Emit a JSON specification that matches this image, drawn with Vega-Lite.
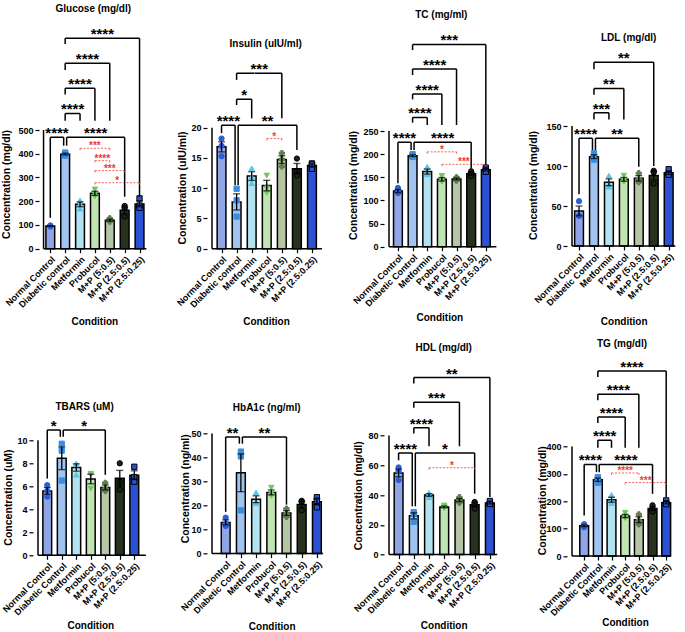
{
"$schema": "https://vega.github.io/schema/vega-lite/v6.json",
"background": "white",
"padding": {"left": 0, "top": 4, "right": 0, "bottom": 0},
"config": {
 "font": "Liberation Sans",
 "view": {"stroke": null},
 "axis": {"grid": false, "domain": false, "tickColor": "black", "tickWidth": 1.2, "tickSize": 4, "labelColor": "black", "labelFontSize": 9, "labelFontWeight": "bold", "titleFontSize": 10.5, "titleFontWeight": "bold", "titleColor": "black", "labelFlush": false, "labelOverlap": false, "labelBound": false, "labelPadding": 2, "tickCount": 20},
 "axisX": {"labelAngle": -45, "titleFontSize": 10, "labelOverlap": false},
 "title": {"fontSize": 10, "fontWeight": "bold", "color": "black"}
},
"datasets": {
"pts": [
{"p":"Glucose","g":"Normal Control","i":0,"v":98},{"p":"Glucose","g":"Normal Control","i":0,"v":95},{"p":"Glucose","g":"Normal Control","i":0,"v":93},
{"p":"Glucose","g":"Diabetic Control","i":1,"v":405},{"p":"Glucose","g":"Diabetic Control","i":1,"v":398},{"p":"Glucose","g":"Diabetic Control","i":1,"v":392},
{"p":"Glucose","g":"Metformin","i":2,"v":203},{"p":"Glucose","g":"Metformin","i":2,"v":190},{"p":"Glucose","g":"Metformin","i":2,"v":168},
{"p":"Glucose","g":"Probucol","i":3,"v":250},{"p":"Glucose","g":"Probucol","i":3,"v":230},{"p":"Glucose","g":"Probucol","i":3,"v":220},
{"p":"Glucose","g":"M+P (5:0.5)","i":4,"v":128},{"p":"Glucose","g":"M+P (5:0.5)","i":4,"v":118},{"p":"Glucose","g":"M+P (5:0.5)","i":4,"v":114},
{"p":"Glucose","g":"M+P (2.5:0.5)","i":5,"v":180},{"p":"Glucose","g":"M+P (2.5:0.5)","i":5,"v":170},{"p":"Glucose","g":"M+P (2.5:0.5)","i":5,"v":135},
{"p":"Glucose","g":"M+P (2.5:0.25)","i":6,"v":212},{"p":"Glucose","g":"M+P (2.5:0.25)","i":6,"v":182},{"p":"Glucose","g":"M+P (2.5:0.25)","i":6,"v":172},
{"p":"Insulin","g":"Normal Control","i":0,"v":18.2},{"p":"Insulin","g":"Normal Control","i":0,"v":17.0},{"p":"Insulin","g":"Normal Control","i":0,"v":15.3},
{"p":"Insulin","g":"Diabetic Control","i":1,"v":9.9},{"p":"Insulin","g":"Diabetic Control","i":1,"v":8.0},{"p":"Insulin","g":"Diabetic Control","i":1,"v":5.3},
{"p":"Insulin","g":"Metformin","i":2,"v":13.3},{"p":"Insulin","g":"Metformin","i":2,"v":11.9},{"p":"Insulin","g":"Metformin","i":2,"v":10.8},
{"p":"Insulin","g":"Probucol","i":3,"v":12.1},{"p":"Insulin","g":"Probucol","i":3,"v":10.0},{"p":"Insulin","g":"Probucol","i":3,"v":9.2},
{"p":"Insulin","g":"M+P (5:0.5)","i":4,"v":15.8},{"p":"Insulin","g":"M+P (5:0.5)","i":4,"v":14.8},{"p":"Insulin","g":"M+P (5:0.5)","i":4,"v":13.6},
{"p":"Insulin","g":"M+P (2.5:0.5)","i":5,"v":14.9},{"p":"Insulin","g":"M+P (2.5:0.5)","i":5,"v":12.7},{"p":"Insulin","g":"M+P (2.5:0.5)","i":5,"v":12.1},
{"p":"Insulin","g":"M+P (2.5:0.25)","i":6,"v":14.1},{"p":"Insulin","g":"M+P (2.5:0.25)","i":6,"v":13.9},{"p":"Insulin","g":"M+P (2.5:0.25)","i":6,"v":13.2},
{"p":"TC","g":"Normal Control","i":0,"v":127},{"p":"TC","g":"Normal Control","i":0,"v":118},{"p":"TC","g":"Normal Control","i":0,"v":116},
{"p":"TC","g":"Diabetic Control","i":1,"v":200},{"p":"TC","g":"Diabetic Control","i":1,"v":196},{"p":"TC","g":"Diabetic Control","i":1,"v":194},
{"p":"TC","g":"Metformin","i":2,"v":173},{"p":"TC","g":"Metformin","i":2,"v":158},{"p":"TC","g":"Metformin","i":2,"v":156},
{"p":"TC","g":"Probucol","i":3,"v":153},{"p":"TC","g":"Probucol","i":3,"v":144},{"p":"TC","g":"Probucol","i":3,"v":140},
{"p":"TC","g":"M+P (5:0.5)","i":4,"v":150},{"p":"TC","g":"M+P (5:0.5)","i":4,"v":146},{"p":"TC","g":"M+P (5:0.5)","i":4,"v":143},
{"p":"TC","g":"M+P (2.5:0.5)","i":5,"v":163},{"p":"TC","g":"M+P (2.5:0.5)","i":5,"v":158},{"p":"TC","g":"M+P (2.5:0.5)","i":5,"v":152},
{"p":"TC","g":"M+P (2.5:0.25)","i":6,"v":171},{"p":"TC","g":"M+P (2.5:0.25)","i":6,"v":166},{"p":"TC","g":"M+P (2.5:0.25)","i":6,"v":162},
{"p":"LDL","g":"Normal Control","i":0,"v":56},{"p":"LDL","g":"Normal Control","i":0,"v":38},{"p":"LDL","g":"Normal Control","i":0,"v":37.5},
{"p":"LDL","g":"Diabetic Control","i":1,"v":116},{"p":"LDL","g":"Diabetic Control","i":1,"v":111},{"p":"LDL","g":"Diabetic Control","i":1,"v":108},
{"p":"LDL","g":"Metformin","i":2,"v":88},{"p":"LDL","g":"Metformin","i":2,"v":77},{"p":"LDL","g":"Metformin","i":2,"v":74},
{"p":"LDL","g":"Probucol","i":3,"v":88},{"p":"LDL","g":"Probucol","i":3,"v":82},{"p":"LDL","g":"Probucol","i":3,"v":80},
{"p":"LDL","g":"M+P (5:0.5)","i":4,"v":91},{"p":"LDL","g":"M+P (5:0.5)","i":4,"v":83},{"p":"LDL","g":"M+P (5:0.5)","i":4,"v":79.8},
{"p":"LDL","g":"M+P (2.5:0.5)","i":5,"v":94},{"p":"LDL","g":"M+P (2.5:0.5)","i":5,"v":92},{"p":"LDL","g":"M+P (2.5:0.5)","i":5,"v":78},
{"p":"LDL","g":"M+P (2.5:0.25)","i":6,"v":96},{"p":"LDL","g":"M+P (2.5:0.25)","i":6,"v":90},{"p":"LDL","g":"M+P (2.5:0.25)","i":6,"v":89},
{"p":"TBARS","g":"Normal Control","i":0,"v":6.1},{"p":"TBARS","g":"Normal Control","i":0,"v":5.6},{"p":"TBARS","g":"Normal Control","i":0,"v":5.1},
{"p":"TBARS","g":"Diabetic Control","i":1,"v":9.7},{"p":"TBARS","g":"Diabetic Control","i":1,"v":9.1},{"p":"TBARS","g":"Diabetic Control","i":1,"v":6.5},
{"p":"TBARS","g":"Metformin","i":2,"v":8.0},{"p":"TBARS","g":"Metformin","i":2,"v":7.9},{"p":"TBARS","g":"Metformin","i":2,"v":7.0},
{"p":"TBARS","g":"Probucol","i":3,"v":7.1},{"p":"TBARS","g":"Probucol","i":3,"v":7.0},{"p":"TBARS","g":"Probucol","i":3,"v":5.8},
{"p":"TBARS","g":"M+P (5:0.5)","i":4,"v":6.3},{"p":"TBARS","g":"M+P (5:0.5)","i":4,"v":5.8},{"p":"TBARS","g":"M+P (5:0.5)","i":4,"v":5.6},
{"p":"TBARS","g":"M+P (2.5:0.5)","i":5,"v":8.0},{"p":"TBARS","g":"M+P (2.5:0.5)","i":5,"v":6.4},{"p":"TBARS","g":"M+P (2.5:0.5)","i":5,"v":5.7},
{"p":"TBARS","g":"M+P (2.5:0.25)","i":6,"v":7.7},{"p":"TBARS","g":"M+P (2.5:0.25)","i":6,"v":6.8},{"p":"TBARS","g":"M+P (2.5:0.25)","i":6,"v":6.4},
{"p":"HbA1c","g":"Normal Control","i":0,"v":15.0},{"p":"HbA1c","g":"Normal Control","i":0,"v":12.5},{"p":"HbA1c","g":"Normal Control","i":0,"v":11.5},
{"p":"HbA1c","g":"Diabetic Control","i":1,"v":42.5},{"p":"HbA1c","g":"Diabetic Control","i":1,"v":40.5},{"p":"HbA1c","g":"Diabetic Control","i":1,"v":18.0},
{"p":"HbA1c","g":"Metformin","i":2,"v":25.5},{"p":"HbA1c","g":"Metformin","i":2,"v":21.5},{"p":"HbA1c","g":"Metformin","i":2,"v":21.0},
{"p":"HbA1c","g":"Probucol","i":3,"v":27.5},{"p":"HbA1c","g":"Probucol","i":3,"v":25.0},{"p":"HbA1c","g":"Probucol","i":3,"v":24.0},
{"p":"HbA1c","g":"M+P (5:0.5)","i":4,"v":18.7},{"p":"HbA1c","g":"M+P (5:0.5)","i":4,"v":16.7},{"p":"HbA1c","g":"M+P (5:0.5)","i":4,"v":15.3},
{"p":"HbA1c","g":"M+P (2.5:0.5)","i":5,"v":22.0},{"p":"HbA1c","g":"M+P (2.5:0.5)","i":5,"v":21.5},{"p":"HbA1c","g":"M+P (2.5:0.5)","i":5,"v":18.0},
{"p":"HbA1c","g":"M+P (2.5:0.25)","i":6,"v":23.5},{"p":"HbA1c","g":"M+P (2.5:0.25)","i":6,"v":22.0},{"p":"HbA1c","g":"M+P (2.5:0.25)","i":6,"v":19.3},
{"p":"HDL","g":"Normal Control","i":0,"v":58.5},{"p":"HDL","g":"Normal Control","i":0,"v":56},{"p":"HDL","g":"Normal Control","i":0,"v":50},
{"p":"HDL","g":"Diabetic Control","i":1,"v":28.5},{"p":"HDL","g":"Diabetic Control","i":1,"v":27.5},{"p":"HDL","g":"Diabetic Control","i":1,"v":22},
{"p":"HDL","g":"Metformin","i":2,"v":41.5},{"p":"HDL","g":"Metformin","i":2,"v":40},{"p":"HDL","g":"Metformin","i":2,"v":38.5},
{"p":"HDL","g":"Probucol","i":3,"v":33},{"p":"HDL","g":"Probucol","i":3,"v":32},{"p":"HDL","g":"Probucol","i":3,"v":31},
{"p":"HDL","g":"M+P (5:0.5)","i":4,"v":38.5},{"p":"HDL","g":"M+P (5:0.5)","i":4,"v":36.5},{"p":"HDL","g":"M+P (5:0.5)","i":4,"v":34.8},
{"p":"HDL","g":"M+P (2.5:0.5)","i":5,"v":35.3},{"p":"HDL","g":"M+P (2.5:0.5)","i":5,"v":34.2},{"p":"HDL","g":"M+P (2.5:0.5)","i":5,"v":30.8},
{"p":"HDL","g":"M+P (2.5:0.25)","i":6,"v":36},{"p":"HDL","g":"M+P (2.5:0.25)","i":6,"v":34},{"p":"HDL","g":"M+P (2.5:0.25)","i":6,"v":34},
{"p":"TG","g":"Normal Control","i":0,"v":116},{"p":"TG","g":"Normal Control","i":0,"v":110},{"p":"TG","g":"Normal Control","i":0,"v":105},
{"p":"TG","g":"Diabetic Control","i":1,"v":288},{"p":"TG","g":"Diabetic Control","i":1,"v":280},{"p":"TG","g":"Diabetic Control","i":1,"v":267},
{"p":"TG","g":"Metformin","i":2,"v":223},{"p":"TG","g":"Metformin","i":2,"v":200},{"p":"TG","g":"Metformin","i":2,"v":193},
{"p":"TG","g":"Probucol","i":3,"v":158},{"p":"TG","g":"Probucol","i":3,"v":142},{"p":"TG","g":"Probucol","i":3,"v":138},
{"p":"TG","g":"M+P (5:0.5)","i":4,"v":152},{"p":"TG","g":"M+P (5:0.5)","i":4,"v":130},{"p":"TG","g":"M+P (5:0.5)","i":4,"v":115.5},
{"p":"TG","g":"M+P (2.5:0.5)","i":5,"v":185},{"p":"TG","g":"M+P (2.5:0.5)","i":5,"v":172},{"p":"TG","g":"M+P (2.5:0.5)","i":5,"v":162},
{"p":"TG","g":"M+P (2.5:0.25)","i":6,"v":203},{"p":"TG","g":"M+P (2.5:0.25)","i":6,"v":192},{"p":"TG","g":"M+P (2.5:0.25)","i":6,"v":189}
],
"br": [
{"p":"Glucose","a":0,"b":0.9,"m":0.45,"h":469,"ya":130,"yb":434,"t":"****","k":"m"},
{"p":"Glucose","a":1.1,"b":5,"m":3.05,"h":469,"ya":434,"yb":219,"t":"****","k":"m"},
{"p":"Glucose","a":1,"b":2,"m":1.5,"h":570,"ya":539,"yb":539,"t":"****","k":"m"},
{"p":"Glucose","a":1,"b":3,"m":2,"h":676,"ya":650,"yb":539,"t":"****","k":"m"},
{"p":"Glucose","a":1,"b":4,"m":2.5,"h":781,"ya":753,"yb":539,"t":"****","k":"m"},
{"p":"Glucose","a":1,"b":6,"m":3.5,"h":886,"ya":862,"yb":219,"t":"****","k":"m"},
{"p":"Glucose","a":2,"b":4,"m":3,"h":423,"ya":415,"yb":415,"t":"***","k":"r"},
{"p":"Glucose","a":3,"b":4,"m":3.5,"h":371,"ya":363,"yb":363,"t":"****","k":"r"},
{"p":"Glucose","a":3,"b":5,"m":4,"h":329,"ya":321,"yb":321,"t":"***","k":"r"},
{"p":"Glucose","a":3,"b":6,"m":4.5,"h":278,"ya":270,"yb":270,"t":"*","k":"r"},
{"p":"Insulin","a":0,"b":0.9,"m":0.45,"h":20.4,"ya":19.1,"yb":10.5,"t":"****","k":"m"},
{"p":"Insulin","a":1.1,"b":5,"m":3.05,"h":20.4,"ya":10.5,"yb":16.3,"t":"**","k":"m"},
{"p":"Insulin","a":1,"b":2,"m":1.5,"h":24.7,"ya":23.75,"yb":21.55,"t":"*","k":"m"},
{"p":"Insulin","a":1,"b":4,"m":2.5,"h":29.0,"ya":27.9,"yb":21.55,"t":"***","k":"m"},
{"p":"Insulin","a":3,"b":4,"m":3.5,"h":18.2,"ya":17.9,"yb":17.9,"t":"*","k":"r"},
{"p":"TC","a":0,"b":0.9,"m":0.45,"h":225.5,"ya":137,"yb":209,"t":"****","k":"m"},
{"p":"TC","a":1.1,"b":5,"m":3.05,"h":225.5,"ya":209,"yb":169,"t":"****","k":"m"},
{"p":"TC","a":1,"b":2,"m":1.5,"h":279.5,"ya":268,"yb":263,"t":"****","k":"m"},
{"p":"TC","a":1,"b":3,"m":2,"h":330,"ya":318.4,"yb":263,"t":"****","k":"m"},
{"p":"TC","a":1,"b":4,"m":2.5,"h":384,"ya":371,"yb":263,"t":"****","k":"m"},
{"p":"TC","a":1,"b":6,"m":3.5,"h":437,"ya":425,"yb":176.5,"t":"***","k":"m"},
{"p":"TC","a":2,"b":4,"m":3,"h":205,"ya":201,"yb":201,"t":"*","k":"r"},
{"p":"TC","a":3,"b":6,"m":4.5,"h":178,"ya":174,"yb":174,"t":"***","k":"r"},
{"p":"LDL","a":0,"b":0.9,"m":0.45,"h":134.6,"ya":64.6,"yb":120,"t":"****","k":"m"},
{"p":"LDL","a":1.1,"b":4,"m":2.55,"h":134.6,"ya":120,"yb":99,"t":"**","k":"m"},
{"p":"LDL","a":1,"b":2,"m":1.5,"h":166.7,"ya":158,"yb":158,"t":"***","k":"m"},
{"p":"LDL","a":1,"b":3,"m":2,"h":197,"ya":189,"yb":158,"t":"**","k":"m"},
{"p":"LDL","a":1,"b":5,"m":3,"h":229.6,"ya":221,"yb":100,"t":"**","k":"m"},
{"p":"TBARS","a":0,"b":0.9,"m":0.45,"h":10.9,"ya":6.67,"yb":10.3,"t":"*","k":"m"},
{"p":"TBARS","a":1.1,"b":4,"m":2.55,"h":10.9,"ya":10.3,"yb":7.0,"t":"*","k":"m"},
{"p":"HbA1c","a":0,"b":0.9,"m":0.45,"h":48.6,"ya":17.4,"yb":45.8,"t":"**","k":"m"},
{"p":"HbA1c","a":1.1,"b":4,"m":2.55,"h":48.6,"ya":45.8,"yb":20.4,"t":"**","k":"m"},
{"p":"HDL","a":0,"b":0.9,"m":0.45,"h":68.2,"ya":63.3,"yb":32.4,"t":"****","k":"m"},
{"p":"HDL","a":1.1,"b":5,"m":3.05,"h":68.2,"ya":32.4,"yb":40.9,"t":"*","k":"m"},
{"p":"HDL","a":1,"b":2,"m":1.5,"h":85.2,"ya":81.2,"yb":72.7,"t":"****","k":"m"},
{"p":"HDL","a":1,"b":4,"m":2.5,"h":102.2,"ya":98.6,"yb":72.7,"t":"***","k":"m"},
{"p":"HDL","a":1,"b":6,"m":3.5,"h":118.8,"ya":114.8,"yb":38.7,"t":"**","k":"m"},
{"p":"HDL","a":2,"b":5,"m":3.5,"h":58.3,"ya":57,"yb":57,"t":"*","k":"r"},
{"p":"TG","a":0,"b":0.9,"m":0.45,"h":334,"ya":148,"yb":306,"t":"****","k":"m"},
{"p":"TG","a":1.1,"b":5,"m":3.05,"h":334,"ya":306,"yb":227,"t":"****","k":"m"},
{"p":"TG","a":1,"b":2,"m":1.5,"h":422,"ya":395,"yb":395,"t":"****","k":"m"},
{"p":"TG","a":1,"b":3,"m":2,"h":507,"ya":485,"yb":395,"t":"****","k":"m"},
{"p":"TG","a":1,"b":4,"m":2.5,"h":590,"ya":568,"yb":395,"t":"****","k":"m"},
{"p":"TG","a":1,"b":6,"m":3.5,"h":675,"ya":653,"yb":215,"t":"****","k":"m"},
{"p":"TG","a":2,"b":4,"m":3,"h":303,"ya":296,"yb":296,"t":"****","k":"r"},
{"p":"TG","a":3,"b":6,"m":4.5,"h":268,"ya":261,"yb":261,"t":"***","k":"r"}
]
},
"columns": 4,
"spacing": {"row": 106.3, "column": 40},
"align": {"row": "all", "column": "none"},
"bounds": "flush",
"resolve": {"scale": {"x": "independent", "y": "independent"}},
"concat": [
{
 "width": 131.3, "height": 228.7,
 "title": {"text": "Glucose (mg/dl)", "offset": 5.7, "dx": -5.35},
 "layer": [
  {"data": {"name": "pts"}, "transform": [{"filter": "datum.p == 'Glucose'"}],
   "mark": {"type": "bar", "width": 8.8, "stroke": "black", "strokeWidth": 1.5},
   "encoding": {
    "x": {"field": "i", "type": "quantitative", "scale": {"domain": [-0.826, 7.329], "nice": false, "zero": false}, "axis": {"values": [0,1,2,3,4,5,6], "tickCount": 20, "labelOverlap": false, "labelExpr": "['Normal Control','Diabetic control','Metformin','Probucol','M+P (5:0.5)','M+P (2.5:0.5)','M+P (2.5:0.25)'][datum.value]", "title": "Condition", "titleX": 61.3, "titleY": 67.3}},
    "y": {"field": "v", "aggregate": "mean", "type": "quantitative", "scale": {"domain": [0, 963.4], "nice": false}, "axis": {"values": [0,100,200,300,400,500], "tickCount": 20, "labelOverlap": false, "title": "Concentration (mg/dl)", "titleX": -27.7, "titleY": 164, "offset": -6}},
    "fill": {"field": "g", "type": "nominal", "scale": {"domain": ["Normal Control","Diabetic Control","Metformin","Probucol","M+P (5:0.5)","M+P (2.5:0.5)","M+P (2.5:0.25)"], "range": ["#8fa5e6","#a0c4ef","#b3e2f0","#c1e4b3","#b6c5a6","#26321e","#2b52d4"]}, "legend": null}
   }},
  {"data": {"name": "pts"}, "transform": [{"filter": "datum.p == 'Glucose'"}],
   "mark": {"type": "point", "filled": true, "size": 28, "strokeWidth": 1, "opacity": 1},
   "encoding": {"x": {"field": "i", "type": "quantitative", "title": "Condition"}, "y": {"field": "v", "type": "quantitative", "title": "Concentration (mg/dl)"},
    "color": {"field": "g", "type": "nominal", "scale": {"domain": ["Normal Control","Diabetic Control","Metformin","Probucol","M+P (5:0.5)","M+P (2.5:0.5)","M+P (2.5:0.25)"], "range": ["#2c5ed9","#3b8de3","#5cc5ea","#6dc95b","#5d7e4f","#1b2515","#2b52d4"]}, "legend": null},
    "stroke": {"field": "g", "type": "nominal", "scale": {"domain": ["Normal Control","Diabetic Control","Metformin","Probucol","M+P (5:0.5)","M+P (2.5:0.5)","M+P (2.5:0.25)"], "range": ["#2c5ed9","#3b8de3","#5cc5ea","#6dc95b","#5d7e4f","#000000","#000000"]}, "legend": null},
    "shape": {"field": "g", "type": "nominal", "scale": {"domain": ["Normal Control","Diabetic Control","Metformin","Probucol","M+P (5:0.5)","M+P (2.5:0.5)","M+P (2.5:0.25)"], "range": ["circle","square","triangle-up","triangle-down","cross","circle","square"]}, "legend": null}}},
  {"data": {"name": "pts"}, "transform": [{"filter": "datum.p == 'Glucose'"}],
   "mark": {"type": "errorbar", "extent": "stderr", "orient": "vertical", "color": "black", "ticks": true, "size": 7, "thickness": 1.3},
   "encoding": {"x": {"field": "i", "type": "quantitative", "title": "Condition"}, "y": {"field": "v", "type": "quantitative", "title": "Concentration (mg/dl)"}}},
  {"data": {"name": "br"}, "transform": [{"filter": "datum.p == 'Glucose'"}],
   "mark": {"type": "rule"},
   "encoding": {"x": {"field": "a", "type": "quantitative"}, "x2": {"field": "b"}, "y": {"field": "h", "type": "quantitative"},
    "color": {"condition": {"test": "datum.k == 'r'", "value": "#ee3b30"}, "value": "black"},
    "strokeDash": {"condition": {"test": "datum.k == 'r'", "value": [2, 1.5]}, "value": [1, 0]},
    "strokeWidth": {"condition": {"test": "datum.k == 'r'", "value": 0.8}, "value": 1.5}}},
  {"data": {"name": "br"}, "transform": [{"filter": "datum.p == 'Glucose'"}],
   "mark": {"type": "rule"},
   "encoding": {"x": {"field": "a", "type": "quantitative"}, "y": {"field": "h", "type": "quantitative"}, "y2": {"field": "ya"},
    "color": {"condition": {"test": "datum.k == 'r'", "value": "#ee3b30"}, "value": "black"},
    "strokeWidth": {"condition": {"test": "datum.k == 'r'", "value": 0.8}, "value": 1.5}}},
  {"data": {"name": "br"}, "transform": [{"filter": "datum.p == 'Glucose'"}],
   "mark": {"type": "rule"},
   "encoding": {"x": {"field": "b", "type": "quantitative"}, "y": {"field": "h", "type": "quantitative"}, "y2": {"field": "yb"},
    "color": {"condition": {"test": "datum.k == 'r'", "value": "#ee3b30"}, "value": "black"},
    "strokeWidth": {"condition": {"test": "datum.k == 'r'", "value": 0.8}, "value": 1.5}}},
  {"data": {"name": "br"}, "transform": [{"filter": "datum.p == 'Glucose'"}],
   "mark": {"type": "text", "fontWeight": "bold", "baseline": "alphabetic", "dy": 1},
   "encoding": {"x": {"field": "m", "type": "quantitative"}, "y": {"field": "h", "type": "quantitative"}, "text": {"field": "t"},
    "color": {"condition": {"test": "datum.k == 'r'", "value": "#ee3b30"}, "value": "black"},
    "size": {"condition": {"test": "datum.k == 'r'", "value": 10}, "value": 15}}},
  {"data": {"values": [{}]}, "mark": {"type": "rule", "color": "black", "strokeWidth": 1.5},
   "encoding": {"x": {"datum": -0.453}, "y": {"datum": 0}, "y2": {"datum": 500}}},
  {"data": {"values": [{}]}, "mark": {"type": "rule", "color": "black", "strokeWidth": 1.5},
   "encoding": {"x": {"datum": -0.453}, "x2": {"datum": 6.46}, "y": {"datum": 0}}}
 ]
},
{
 "width": 134.7, "height": 228.7,
 "title": {"text": "Insulin (uIU/ml)", "offset": -29, "dx": -8.65},
 "layer": [
  {"data": {"name": "pts"}, "transform": [{"filter": "datum.p == 'Insulin'"}],
   "mark": {"type": "bar", "width": 8.8, "stroke": "black", "strokeWidth": 1.5},
   "encoding": {
    "x": {"field": "i", "type": "quantitative", "scale": {"domain": [-0.633, 7.641], "nice": false, "zero": false}, "axis": {"values": [0,1,2,3,4,5,6], "tickCount": 20, "labelOverlap": false, "labelExpr": "['Normal Control','Diabetic control','Metformin','Probucol','M+P (5:0.5)','M+P (2.5:0.5)','M+P (2.5:0.25)'][datum.value]", "title": "Condition", "titleX": 59, "titleY": 67.3}},
    "y": {"field": "v", "aggregate": "mean", "type": "quantitative", "scale": {"domain": [0, 37.8], "nice": false}, "axis": {"values": [0,5,10,15,20], "tickCount": 20, "labelOverlap": false, "title": "Concentration (uIU/ml)", "titleX": -19.7, "titleY": 167.5}},
    "fill": {"field": "g", "type": "nominal", "scale": {"domain": ["Normal Control","Diabetic Control","Metformin","Probucol","M+P (5:0.5)","M+P (2.5:0.5)","M+P (2.5:0.25)"], "range": ["#8fa5e6","#a0c4ef","#b3e2f0","#c1e4b3","#b6c5a6","#26321e","#2b52d4"]}, "legend": null}
   }},
  {"data": {"name": "pts"}, "transform": [{"filter": "datum.p == 'Insulin'"}],
   "mark": {"type": "point", "filled": true, "size": 28, "strokeWidth": 1, "opacity": 1},
   "encoding": {"x": {"field": "i", "type": "quantitative", "title": "Condition"}, "y": {"field": "v", "type": "quantitative", "title": "Concentration (uIU/ml)"},
    "color": {"field": "g", "type": "nominal", "scale": {"domain": ["Normal Control","Diabetic Control","Metformin","Probucol","M+P (5:0.5)","M+P (2.5:0.5)","M+P (2.5:0.25)"], "range": ["#2c5ed9","#3b8de3","#5cc5ea","#6dc95b","#5d7e4f","#1b2515","#2b52d4"]}, "legend": null},
    "stroke": {"field": "g", "type": "nominal", "scale": {"domain": ["Normal Control","Diabetic Control","Metformin","Probucol","M+P (5:0.5)","M+P (2.5:0.5)","M+P (2.5:0.25)"], "range": ["#2c5ed9","#3b8de3","#5cc5ea","#6dc95b","#5d7e4f","#000000","#000000"]}, "legend": null},
    "shape": {"field": "g", "type": "nominal", "scale": {"domain": ["Normal Control","Diabetic Control","Metformin","Probucol","M+P (5:0.5)","M+P (2.5:0.5)","M+P (2.5:0.25)"], "range": ["circle","square","triangle-up","triangle-down","cross","circle","square"]}, "legend": null}}},
  {"data": {"name": "pts"}, "transform": [{"filter": "datum.p == 'Insulin'"}],
   "mark": {"type": "errorbar", "extent": "stderr", "orient": "vertical", "color": "black", "ticks": true, "size": 7, "thickness": 1.3},
   "encoding": {"x": {"field": "i", "type": "quantitative", "title": "Condition"}, "y": {"field": "v", "type": "quantitative", "title": "Concentration (uIU/ml)"}}},
  {"data": {"name": "br"}, "transform": [{"filter": "datum.p == 'Insulin'"}],
   "mark": {"type": "rule"},
   "encoding": {"x": {"field": "a", "type": "quantitative"}, "x2": {"field": "b"}, "y": {"field": "h", "type": "quantitative"},
    "color": {"condition": {"test": "datum.k == 'r'", "value": "#ee3b30"}, "value": "black"},
    "strokeDash": {"condition": {"test": "datum.k == 'r'", "value": [2, 1.5]}, "value": [1, 0]},
    "strokeWidth": {"condition": {"test": "datum.k == 'r'", "value": 0.8}, "value": 1.5}}},
  {"data": {"name": "br"}, "transform": [{"filter": "datum.p == 'Insulin'"}],
   "mark": {"type": "rule"},
   "encoding": {"x": {"field": "a", "type": "quantitative"}, "y": {"field": "h", "type": "quantitative"}, "y2": {"field": "ya"},
    "color": {"condition": {"test": "datum.k == 'r'", "value": "#ee3b30"}, "value": "black"},
    "strokeWidth": {"condition": {"test": "datum.k == 'r'", "value": 0.8}, "value": 1.5}}},
  {"data": {"name": "br"}, "transform": [{"filter": "datum.p == 'Insulin'"}],
   "mark": {"type": "rule"},
   "encoding": {"x": {"field": "b", "type": "quantitative"}, "y": {"field": "h", "type": "quantitative"}, "y2": {"field": "yb"},
    "color": {"condition": {"test": "datum.k == 'r'", "value": "#ee3b30"}, "value": "black"},
    "strokeWidth": {"condition": {"test": "datum.k == 'r'", "value": 0.8}, "value": 1.5}}},
  {"data": {"name": "br"}, "transform": [{"filter": "datum.p == 'Insulin'"}],
   "mark": {"type": "text", "fontWeight": "bold", "baseline": "alphabetic", "dy": 1},
   "encoding": {"x": {"field": "m", "type": "quantitative"}, "y": {"field": "h", "type": "quantitative"}, "text": {"field": "t"},
    "color": {"condition": {"test": "datum.k == 'r'", "value": "#ee3b30"}, "value": "black"},
    "size": {"condition": {"test": "datum.k == 'r'", "value": 10}, "value": 15}}},
  {"data": {"values": [{}]}, "mark": {"type": "rule", "color": "black", "strokeWidth": 1.5},
   "encoding": {"x": {"datum": -0.633}, "y": {"datum": 0}, "y2": {"datum": 20}}},
  {"data": {"values": [{}]}, "mark": {"type": "rule", "color": "black", "strokeWidth": 1.5},
   "encoding": {"x": {"datum": -0.633}, "x2": {"datum": 6.66}, "y": {"datum": 0}}}
 ]
},
{
 "width": 140.6, "height": 226.7,
 "title": {"text": "TC (mg/ml)", "offset": 0, "dx": -13},
 "layer": [
  {"data": {"name": "pts"}, "transform": [{"filter": "datum.p == 'TC'"}],
   "mark": {"type": "bar", "width": 8.8, "stroke": "black", "strokeWidth": 1.5},
   "encoding": {
    "x": {"field": "i", "type": "quantitative", "scale": {"domain": [-0.61, 8.306], "nice": false, "zero": false}, "axis": {"values": [0,1,2,3,4,5,6], "tickCount": 20, "labelOverlap": false, "labelExpr": "['Normal Control','Diabetic Control','Metformin','Probucol','M+P (5:0.5)','M+P (2.5:0.5)','M+P (2.5:0.25)'][datum.value]", "title": "Condition", "titleX": 55.3, "titleY": 65.3}},
    "y": {"field": "v", "aggregate": "mean", "type": "quantitative", "scale": {"domain": [0, 489.95], "nice": false}, "axis": {"values": [0,50,100,150,200,250], "tickCount": 20, "labelOverlap": false, "title": "Concentration (mg/dl)", "titleX": -25.7, "titleY": 165}},
    "fill": {"field": "g", "type": "nominal", "scale": {"domain": ["Normal Control","Diabetic Control","Metformin","Probucol","M+P (5:0.5)","M+P (2.5:0.5)","M+P (2.5:0.25)"], "range": ["#8fa5e6","#a0c4ef","#b3e2f0","#c1e4b3","#b6c5a6","#26321e","#2b52d4"]}, "legend": null}
   }},
  {"data": {"name": "pts"}, "transform": [{"filter": "datum.p == 'TC'"}],
   "mark": {"type": "point", "filled": true, "size": 28, "strokeWidth": 1, "opacity": 1},
   "encoding": {"x": {"field": "i", "type": "quantitative", "title": "Condition"}, "y": {"field": "v", "type": "quantitative", "title": "Concentration (mg/dl)"},
    "color": {"field": "g", "type": "nominal", "scale": {"domain": ["Normal Control","Diabetic Control","Metformin","Probucol","M+P (5:0.5)","M+P (2.5:0.5)","M+P (2.5:0.25)"], "range": ["#2c5ed9","#3b8de3","#5cc5ea","#6dc95b","#5d7e4f","#1b2515","#2b52d4"]}, "legend": null},
    "stroke": {"field": "g", "type": "nominal", "scale": {"domain": ["Normal Control","Diabetic Control","Metformin","Probucol","M+P (5:0.5)","M+P (2.5:0.5)","M+P (2.5:0.25)"], "range": ["#2c5ed9","#3b8de3","#5cc5ea","#6dc95b","#5d7e4f","#000000","#000000"]}, "legend": null},
    "shape": {"field": "g", "type": "nominal", "scale": {"domain": ["Normal Control","Diabetic Control","Metformin","Probucol","M+P (5:0.5)","M+P (2.5:0.5)","M+P (2.5:0.25)"], "range": ["circle","square","triangle-up","triangle-down","cross","circle","square"]}, "legend": null}}},
  {"data": {"name": "pts"}, "transform": [{"filter": "datum.p == 'TC'"}],
   "mark": {"type": "errorbar", "extent": "stderr", "orient": "vertical", "color": "black", "ticks": true, "size": 7, "thickness": 1.3},
   "encoding": {"x": {"field": "i", "type": "quantitative", "title": "Condition"}, "y": {"field": "v", "type": "quantitative", "title": "Concentration (mg/dl)"}}},
  {"data": {"name": "br"}, "transform": [{"filter": "datum.p == 'TC'"}],
   "mark": {"type": "rule"},
   "encoding": {"x": {"field": "a", "type": "quantitative"}, "x2": {"field": "b"}, "y": {"field": "h", "type": "quantitative"},
    "color": {"condition": {"test": "datum.k == 'r'", "value": "#ee3b30"}, "value": "black"},
    "strokeDash": {"condition": {"test": "datum.k == 'r'", "value": [2, 1.5]}, "value": [1, 0]},
    "strokeWidth": {"condition": {"test": "datum.k == 'r'", "value": 0.8}, "value": 1.5}}},
  {"data": {"name": "br"}, "transform": [{"filter": "datum.p == 'TC'"}],
   "mark": {"type": "rule"},
   "encoding": {"x": {"field": "a", "type": "quantitative"}, "y": {"field": "h", "type": "quantitative"}, "y2": {"field": "ya"},
    "color": {"condition": {"test": "datum.k == 'r'", "value": "#ee3b30"}, "value": "black"},
    "strokeWidth": {"condition": {"test": "datum.k == 'r'", "value": 0.8}, "value": 1.5}}},
  {"data": {"name": "br"}, "transform": [{"filter": "datum.p == 'TC'"}],
   "mark": {"type": "rule"},
   "encoding": {"x": {"field": "b", "type": "quantitative"}, "y": {"field": "h", "type": "quantitative"}, "y2": {"field": "yb"},
    "color": {"condition": {"test": "datum.k == 'r'", "value": "#ee3b30"}, "value": "black"},
    "strokeWidth": {"condition": {"test": "datum.k == 'r'", "value": 0.8}, "value": 1.5}}},
  {"data": {"name": "br"}, "transform": [{"filter": "datum.p == 'TC'"}],
   "mark": {"type": "text", "fontWeight": "bold", "baseline": "alphabetic", "dy": 1},
   "encoding": {"x": {"field": "m", "type": "quantitative"}, "y": {"field": "h", "type": "quantitative"}, "text": {"field": "t"},
    "color": {"condition": {"test": "datum.k == 'r'", "value": "#ee3b30"}, "value": "black"},
    "size": {"condition": {"test": "datum.k == 'r'", "value": 10}, "value": 15}}},
  {"data": {"values": [{}]}, "mark": {"type": "rule", "color": "black", "strokeWidth": 1.5},
   "encoding": {"x": {"datum": -0.61}, "y": {"datum": 0}, "y2": {"datum": 250}}},
  {"data": {"values": [{}]}, "mark": {"type": "rule", "color": "black", "strokeWidth": 1.5},
   "encoding": {"x": {"datum": -0.61}, "x2": {"datum": 6.72}, "y": {"datum": 0}}}
 ]
},
{
 "width": 113.4, "height": 226,
 "title": {"text": "LDL (mg/dl)", "offset": -23.3, "dx": 5},
 "layer": [
  {"data": {"name": "pts"}, "transform": [{"filter": "datum.p == 'LDL'"}],
   "mark": {"type": "bar", "width": 8.8, "stroke": "black", "strokeWidth": 1.5},
   "encoding": {
    "x": {"field": "i", "type": "quantitative", "scale": {"domain": [-0.47, 6.45], "nice": false, "zero": false}, "axis": {"values": [0,1,2,3,4,5,6], "tickCount": 20, "labelOverlap": false, "labelExpr": "['Normal Control','Diabetic Control','Metformin','Probucol','M+P (5:0.5)','M+P (2.5:0.5)','M+P (2.5:0.25)'][datum.value]", "title": "Condition", "titleX": 56.7, "titleY": 70}},
    "y": {"field": "v", "aggregate": "mean", "type": "quantitative", "scale": {"domain": [0, 282.5], "nice": false}, "axis": {"values": [0,50,100,150], "tickCount": 20, "labelOverlap": false, "title": "Concentration (mg/dl)", "titleX": -28.8, "titleY": 165}},
    "fill": {"field": "g", "type": "nominal", "scale": {"domain": ["Normal Control","Diabetic Control","Metformin","Probucol","M+P (5:0.5)","M+P (2.5:0.5)","M+P (2.5:0.25)"], "range": ["#8fa5e6","#a0c4ef","#b3e2f0","#c1e4b3","#b6c5a6","#26321e","#2b52d4"]}, "legend": null}
   }},
  {"data": {"name": "pts"}, "transform": [{"filter": "datum.p == 'LDL'"}],
   "mark": {"type": "point", "filled": true, "size": 28, "strokeWidth": 1, "opacity": 1},
   "encoding": {"x": {"field": "i", "type": "quantitative", "title": "Condition"}, "y": {"field": "v", "type": "quantitative", "title": "Concentration (mg/dl)"},
    "color": {"field": "g", "type": "nominal", "scale": {"domain": ["Normal Control","Diabetic Control","Metformin","Probucol","M+P (5:0.5)","M+P (2.5:0.5)","M+P (2.5:0.25)"], "range": ["#2c5ed9","#3b8de3","#5cc5ea","#6dc95b","#5d7e4f","#1b2515","#2b52d4"]}, "legend": null},
    "stroke": {"field": "g", "type": "nominal", "scale": {"domain": ["Normal Control","Diabetic Control","Metformin","Probucol","M+P (5:0.5)","M+P (2.5:0.5)","M+P (2.5:0.25)"], "range": ["#2c5ed9","#3b8de3","#5cc5ea","#6dc95b","#5d7e4f","#000000","#000000"]}, "legend": null},
    "shape": {"field": "g", "type": "nominal", "scale": {"domain": ["Normal Control","Diabetic Control","Metformin","Probucol","M+P (5:0.5)","M+P (2.5:0.5)","M+P (2.5:0.25)"], "range": ["circle","square","triangle-up","triangle-down","cross","circle","square"]}, "legend": null}}},
  {"data": {"name": "pts"}, "transform": [{"filter": "datum.p == 'LDL'"}],
   "mark": {"type": "errorbar", "extent": "stderr", "orient": "vertical", "color": "black", "ticks": true, "size": 7, "thickness": 1.3},
   "encoding": {"x": {"field": "i", "type": "quantitative", "title": "Condition"}, "y": {"field": "v", "type": "quantitative", "title": "Concentration (mg/dl)"}}},
  {"data": {"name": "br"}, "transform": [{"filter": "datum.p == 'LDL'"}],
   "mark": {"type": "rule"},
   "encoding": {"x": {"field": "a", "type": "quantitative"}, "x2": {"field": "b"}, "y": {"field": "h", "type": "quantitative"},
    "color": {"condition": {"test": "datum.k == 'r'", "value": "#ee3b30"}, "value": "black"},
    "strokeDash": {"condition": {"test": "datum.k == 'r'", "value": [2, 1.5]}, "value": [1, 0]},
    "strokeWidth": {"condition": {"test": "datum.k == 'r'", "value": 0.8}, "value": 1.5}}},
  {"data": {"name": "br"}, "transform": [{"filter": "datum.p == 'LDL'"}],
   "mark": {"type": "rule"},
   "encoding": {"x": {"field": "a", "type": "quantitative"}, "y": {"field": "h", "type": "quantitative"}, "y2": {"field": "ya"},
    "color": {"condition": {"test": "datum.k == 'r'", "value": "#ee3b30"}, "value": "black"},
    "strokeWidth": {"condition": {"test": "datum.k == 'r'", "value": 0.8}, "value": 1.5}}},
  {"data": {"name": "br"}, "transform": [{"filter": "datum.p == 'LDL'"}],
   "mark": {"type": "rule"},
   "encoding": {"x": {"field": "b", "type": "quantitative"}, "y": {"field": "h", "type": "quantitative"}, "y2": {"field": "yb"},
    "color": {"condition": {"test": "datum.k == 'r'", "value": "#ee3b30"}, "value": "black"},
    "strokeWidth": {"condition": {"test": "datum.k == 'r'", "value": 0.8}, "value": 1.5}}},
  {"data": {"name": "br"}, "transform": [{"filter": "datum.p == 'LDL'"}],
   "mark": {"type": "text", "fontWeight": "bold", "baseline": "alphabetic", "dy": 1},
   "encoding": {"x": {"field": "m", "type": "quantitative"}, "y": {"field": "h", "type": "quantitative"}, "text": {"field": "t"},
    "color": {"condition": {"test": "datum.k == 'r'", "value": "#ee3b30"}, "value": "black"},
    "size": {"condition": {"test": "datum.k == 'r'", "value": 10}, "value": 15}}},
  {"data": {"values": [{}]}, "mark": {"type": "rule", "color": "black", "strokeWidth": 1.5},
   "encoding": {"x": {"datum": -0.47}, "y": {"datum": 0}, "y2": {"datum": 150}}},
  {"data": {"values": [{}]}, "mark": {"type": "rule", "color": "black", "strokeWidth": 1.5},
   "encoding": {"x": {"datum": -0.47}, "x2": {"datum": 6.45}, "y": {"datum": 0}}}
 ]
},
{
 "width": 133.6, "height": 200,
 "title": {"text": "TBARS (uM)", "offset": -56.7, "dx": -15.2},
 "layer": [
  {"data": {"name": "pts"}, "transform": [{"filter": "datum.p == 'TBARS'"}],
   "mark": {"type": "bar", "width": 8.8, "stroke": "black", "strokeWidth": 1.5},
   "encoding": {
    "x": {"field": "i", "type": "quantitative", "scale": {"domain": [-0.638, 7.882], "nice": false, "zero": false}, "axis": {"values": [0,1,2,3,4,5,6], "tickCount": 20, "labelOverlap": false, "labelExpr": "['Normal Control','Diabetic Control','Metformin','Probucol','M+P (5:0.5)','M+P (2.5:0.5)','M+P (2.5:0.25)'][datum.value]", "title": "Condition", "titleX": 57.3, "titleY": 64.7}},
    "y": {"field": "v", "aggregate": "mean", "type": "quantitative", "scale": {"domain": [0, 17.39], "nice": false}, "axis": {"values": [0,2,4,6,8,10], "tickCount": 20, "labelOverlap": false, "title": "Concentration (uM)", "titleX": -20, "titleY": 141.7}},
    "fill": {"field": "g", "type": "nominal", "scale": {"domain": ["Normal Control","Diabetic Control","Metformin","Probucol","M+P (5:0.5)","M+P (2.5:0.5)","M+P (2.5:0.25)"], "range": ["#8fa5e6","#a0c4ef","#b3e2f0","#c1e4b3","#b6c5a6","#26321e","#2b52d4"]}, "legend": null}
   }},
  {"data": {"name": "pts"}, "transform": [{"filter": "datum.p == 'TBARS'"}],
   "mark": {"type": "point", "filled": true, "size": 28, "strokeWidth": 1, "opacity": 1},
   "encoding": {"x": {"field": "i", "type": "quantitative", "title": "Condition"}, "y": {"field": "v", "type": "quantitative", "title": "Concentration (uM)"},
    "color": {"field": "g", "type": "nominal", "scale": {"domain": ["Normal Control","Diabetic Control","Metformin","Probucol","M+P (5:0.5)","M+P (2.5:0.5)","M+P (2.5:0.25)"], "range": ["#2c5ed9","#3b8de3","#5cc5ea","#6dc95b","#5d7e4f","#1b2515","#2b52d4"]}, "legend": null},
    "stroke": {"field": "g", "type": "nominal", "scale": {"domain": ["Normal Control","Diabetic Control","Metformin","Probucol","M+P (5:0.5)","M+P (2.5:0.5)","M+P (2.5:0.25)"], "range": ["#2c5ed9","#3b8de3","#5cc5ea","#6dc95b","#5d7e4f","#000000","#000000"]}, "legend": null},
    "shape": {"field": "g", "type": "nominal", "scale": {"domain": ["Normal Control","Diabetic Control","Metformin","Probucol","M+P (5:0.5)","M+P (2.5:0.5)","M+P (2.5:0.25)"], "range": ["circle","square","triangle-up","triangle-down","cross","circle","square"]}, "legend": null}}},
  {"data": {"name": "pts"}, "transform": [{"filter": "datum.p == 'TBARS'"}],
   "mark": {"type": "errorbar", "extent": "stderr", "orient": "vertical", "color": "black", "ticks": true, "size": 7, "thickness": 1.3},
   "encoding": {"x": {"field": "i", "type": "quantitative", "title": "Condition"}, "y": {"field": "v", "type": "quantitative", "title": "Concentration (uM)"}}},
  {"data": {"name": "br"}, "transform": [{"filter": "datum.p == 'TBARS'"}],
   "mark": {"type": "rule"},
   "encoding": {"x": {"field": "a", "type": "quantitative"}, "x2": {"field": "b"}, "y": {"field": "h", "type": "quantitative"},
    "color": {"condition": {"test": "datum.k == 'r'", "value": "#ee3b30"}, "value": "black"},
    "strokeDash": {"condition": {"test": "datum.k == 'r'", "value": [2, 1.5]}, "value": [1, 0]},
    "strokeWidth": {"condition": {"test": "datum.k == 'r'", "value": 0.8}, "value": 1.5}}},
  {"data": {"name": "br"}, "transform": [{"filter": "datum.p == 'TBARS'"}],
   "mark": {"type": "rule"},
   "encoding": {"x": {"field": "a", "type": "quantitative"}, "y": {"field": "h", "type": "quantitative"}, "y2": {"field": "ya"},
    "color": {"condition": {"test": "datum.k == 'r'", "value": "#ee3b30"}, "value": "black"},
    "strokeWidth": {"condition": {"test": "datum.k == 'r'", "value": 0.8}, "value": 1.5}}},
  {"data": {"name": "br"}, "transform": [{"filter": "datum.p == 'TBARS'"}],
   "mark": {"type": "rule"},
   "encoding": {"x": {"field": "b", "type": "quantitative"}, "y": {"field": "h", "type": "quantitative"}, "y2": {"field": "yb"},
    "color": {"condition": {"test": "datum.k == 'r'", "value": "#ee3b30"}, "value": "black"},
    "strokeWidth": {"condition": {"test": "datum.k == 'r'", "value": 0.8}, "value": 1.5}}},
  {"data": {"name": "br"}, "transform": [{"filter": "datum.p == 'TBARS'"}],
   "mark": {"type": "text", "fontWeight": "bold", "baseline": "alphabetic", "dy": 1},
   "encoding": {"x": {"field": "m", "type": "quantitative"}, "y": {"field": "h", "type": "quantitative"}, "text": {"field": "t"},
    "color": {"condition": {"test": "datum.k == 'r'", "value": "#ee3b30"}, "value": "black"},
    "size": {"condition": {"test": "datum.k == 'r'", "value": 10}, "value": 15}}},
  {"data": {"values": [{}]}, "mark": {"type": "rule", "color": "black", "strokeWidth": 1.5},
   "encoding": {"x": {"datum": -0.638}, "y": {"datum": 0}, "y2": {"datum": 10}}},
  {"data": {"values": [{}]}, "mark": {"type": "rule", "color": "black", "strokeWidth": 1.5},
   "encoding": {"x": {"datum": -0.638}, "x2": {"datum": 6.8}, "y": {"datum": 0}}}
 ]
},
{
 "width": 136.7, "height": 198.3,
 "title": {"text": "HbA1c (ng/ml)", "offset": -57.3, "dx": -8.65},
 "layer": [
  {"data": {"name": "pts"}, "transform": [{"filter": "datum.p == 'HbA1c'"}],
   "mark": {"type": "bar", "width": 8.8, "stroke": "black", "strokeWidth": 1.5},
   "encoding": {
    "x": {"field": "i", "type": "quantitative", "scale": {"domain": [-0.9, 7.435], "nice": false, "zero": false}, "axis": {"values": [0,1,2,3,4,5,6], "tickCount": 20, "labelOverlap": false, "labelExpr": "['Normal Control','Diabetic Control','Metformin','Probucol','M+P (5:0.5)','M+P (2.5:0.5)','M+P (2.5:0.25)'][datum.value]", "title": "Condition", "titleX": 64.7, "titleY": 67.5}},
    "y": {"field": "v", "aggregate": "mean", "type": "quantitative", "scale": {"domain": [0, 82.63], "nice": false}, "axis": {"values": [0,10,20,30,40,50], "tickCount": 20, "labelOverlap": false, "title": "Concentration (ng/ml)", "titleX": -16.6, "titleY": 133}},
    "fill": {"field": "g", "type": "nominal", "scale": {"domain": ["Normal Control","Diabetic Control","Metformin","Probucol","M+P (5:0.5)","M+P (2.5:0.5)","M+P (2.5:0.25)"], "range": ["#8fa5e6","#a0c4ef","#b3e2f0","#c1e4b3","#b6c5a6","#26321e","#2b52d4"]}, "legend": null}
   }},
  {"data": {"name": "pts"}, "transform": [{"filter": "datum.p == 'HbA1c'"}],
   "mark": {"type": "point", "filled": true, "size": 28, "strokeWidth": 1, "opacity": 1},
   "encoding": {"x": {"field": "i", "type": "quantitative", "title": "Condition"}, "y": {"field": "v", "type": "quantitative", "title": "Concentration (ng/ml)"},
    "color": {"field": "g", "type": "nominal", "scale": {"domain": ["Normal Control","Diabetic Control","Metformin","Probucol","M+P (5:0.5)","M+P (2.5:0.5)","M+P (2.5:0.25)"], "range": ["#2c5ed9","#3b8de3","#5cc5ea","#6dc95b","#5d7e4f","#1b2515","#2b52d4"]}, "legend": null},
    "stroke": {"field": "g", "type": "nominal", "scale": {"domain": ["Normal Control","Diabetic Control","Metformin","Probucol","M+P (5:0.5)","M+P (2.5:0.5)","M+P (2.5:0.25)"], "range": ["#2c5ed9","#3b8de3","#5cc5ea","#6dc95b","#5d7e4f","#000000","#000000"]}, "legend": null},
    "shape": {"field": "g", "type": "nominal", "scale": {"domain": ["Normal Control","Diabetic Control","Metformin","Probucol","M+P (5:0.5)","M+P (2.5:0.5)","M+P (2.5:0.25)"], "range": ["circle","square","triangle-up","triangle-down","cross","circle","square"]}, "legend": null}}},
  {"data": {"name": "pts"}, "transform": [{"filter": "datum.p == 'HbA1c'"}],
   "mark": {"type": "errorbar", "extent": "stderr", "orient": "vertical", "color": "black", "ticks": true, "size": 7, "thickness": 1.3},
   "encoding": {"x": {"field": "i", "type": "quantitative", "title": "Condition"}, "y": {"field": "v", "type": "quantitative", "title": "Concentration (ng/ml)"}}},
  {"data": {"name": "br"}, "transform": [{"filter": "datum.p == 'HbA1c'"}],
   "mark": {"type": "rule"},
   "encoding": {"x": {"field": "a", "type": "quantitative"}, "x2": {"field": "b"}, "y": {"field": "h", "type": "quantitative"},
    "color": {"condition": {"test": "datum.k == 'r'", "value": "#ee3b30"}, "value": "black"},
    "strokeDash": {"condition": {"test": "datum.k == 'r'", "value": [2, 1.5]}, "value": [1, 0]},
    "strokeWidth": {"condition": {"test": "datum.k == 'r'", "value": 0.8}, "value": 1.5}}},
  {"data": {"name": "br"}, "transform": [{"filter": "datum.p == 'HbA1c'"}],
   "mark": {"type": "rule"},
   "encoding": {"x": {"field": "a", "type": "quantitative"}, "y": {"field": "h", "type": "quantitative"}, "y2": {"field": "ya"},
    "color": {"condition": {"test": "datum.k == 'r'", "value": "#ee3b30"}, "value": "black"},
    "strokeWidth": {"condition": {"test": "datum.k == 'r'", "value": 0.8}, "value": 1.5}}},
  {"data": {"name": "br"}, "transform": [{"filter": "datum.p == 'HbA1c'"}],
   "mark": {"type": "rule"},
   "encoding": {"x": {"field": "b", "type": "quantitative"}, "y": {"field": "h", "type": "quantitative"}, "y2": {"field": "yb"},
    "color": {"condition": {"test": "datum.k == 'r'", "value": "#ee3b30"}, "value": "black"},
    "strokeWidth": {"condition": {"test": "datum.k == 'r'", "value": 0.8}, "value": 1.5}}},
  {"data": {"name": "br"}, "transform": [{"filter": "datum.p == 'HbA1c'"}],
   "mark": {"type": "text", "fontWeight": "bold", "baseline": "alphabetic", "dy": 1},
   "encoding": {"x": {"field": "m", "type": "quantitative"}, "y": {"field": "h", "type": "quantitative"}, "text": {"field": "t"},
    "color": {"condition": {"test": "datum.k == 'r'", "value": "#ee3b30"}, "value": "black"},
    "size": {"condition": {"test": "datum.k == 'r'", "value": 10}, "value": 15}}},
  {"data": {"values": [{}]}, "mark": {"type": "rule", "color": "black", "strokeWidth": 1.5},
   "encoding": {"x": {"datum": -0.9}, "y": {"datum": 0}, "y2": {"datum": 50}}},
  {"data": {"values": [{}]}, "mark": {"type": "rule", "color": "black", "strokeWidth": 1.5},
   "encoding": {"x": {"datum": -0.9}, "x2": {"datum": 6.4}, "y": {"datum": 0}}}
 ]
},
{
 "width": 143, "height": 199.3,
 "title": {"text": "HDL (mg/dl)", "offset": 2.7, "dx": -11.8},
 "layer": [
  {"data": {"name": "pts"}, "transform": [{"filter": "datum.p == 'HDL'"}],
   "mark": {"type": "bar", "width": 8.8, "stroke": "black", "strokeWidth": 1.5},
   "encoding": {
    "x": {"field": "i", "type": "quantitative", "scale": {"domain": [-0.63, 8.111], "nice": false, "zero": false}, "axis": {"values": [0,1,2,3,4,5,6], "tickCount": 20, "labelOverlap": false, "labelExpr": "['Normal Control','Diabetic control','Metformin','Probucol','M+P (5:0.5)','M+P (2.5:0.5)','M+P (2.5:0.25)'][datum.value]", "title": "Condition", "titleX": 59.7, "titleY": 65.4}},
    "y": {"field": "v", "aggregate": "mean", "type": "quantitative", "scale": {"domain": [0, 133.76], "nice": false}, "axis": {"values": [0,20,40,60,80], "tickCount": 20, "labelOverlap": false, "title": "Concentration (mg/dl)", "titleX": -20.3, "titleY": 140}},
    "fill": {"field": "g", "type": "nominal", "scale": {"domain": ["Normal Control","Diabetic Control","Metformin","Probucol","M+P (5:0.5)","M+P (2.5:0.5)","M+P (2.5:0.25)"], "range": ["#8fa5e6","#a0c4ef","#b3e2f0","#c1e4b3","#b6c5a6","#26321e","#2b52d4"]}, "legend": null}
   }},
  {"data": {"name": "pts"}, "transform": [{"filter": "datum.p == 'HDL'"}],
   "mark": {"type": "point", "filled": true, "size": 28, "strokeWidth": 1, "opacity": 1},
   "encoding": {"x": {"field": "i", "type": "quantitative", "title": "Condition"}, "y": {"field": "v", "type": "quantitative", "title": "Concentration (mg/dl)"},
    "color": {"field": "g", "type": "nominal", "scale": {"domain": ["Normal Control","Diabetic Control","Metformin","Probucol","M+P (5:0.5)","M+P (2.5:0.5)","M+P (2.5:0.25)"], "range": ["#2c5ed9","#3b8de3","#5cc5ea","#6dc95b","#5d7e4f","#1b2515","#2b52d4"]}, "legend": null},
    "stroke": {"field": "g", "type": "nominal", "scale": {"domain": ["Normal Control","Diabetic Control","Metformin","Probucol","M+P (5:0.5)","M+P (2.5:0.5)","M+P (2.5:0.25)"], "range": ["#2c5ed9","#3b8de3","#5cc5ea","#6dc95b","#5d7e4f","#000000","#000000"]}, "legend": null},
    "shape": {"field": "g", "type": "nominal", "scale": {"domain": ["Normal Control","Diabetic Control","Metformin","Probucol","M+P (5:0.5)","M+P (2.5:0.5)","M+P (2.5:0.25)"], "range": ["circle","square","triangle-up","triangle-down","cross","circle","square"]}, "legend": null}}},
  {"data": {"name": "pts"}, "transform": [{"filter": "datum.p == 'HDL'"}],
   "mark": {"type": "errorbar", "extent": "stderr", "orient": "vertical", "color": "black", "ticks": true, "size": 7, "thickness": 1.3},
   "encoding": {"x": {"field": "i", "type": "quantitative", "title": "Condition"}, "y": {"field": "v", "type": "quantitative", "title": "Concentration (mg/dl)"}}},
  {"data": {"name": "br"}, "transform": [{"filter": "datum.p == 'HDL'"}],
   "mark": {"type": "rule"},
   "encoding": {"x": {"field": "a", "type": "quantitative"}, "x2": {"field": "b"}, "y": {"field": "h", "type": "quantitative"},
    "color": {"condition": {"test": "datum.k == 'r'", "value": "#ee3b30"}, "value": "black"},
    "strokeDash": {"condition": {"test": "datum.k == 'r'", "value": [2, 1.5]}, "value": [1, 0]},
    "strokeWidth": {"condition": {"test": "datum.k == 'r'", "value": 0.8}, "value": 1.5}}},
  {"data": {"name": "br"}, "transform": [{"filter": "datum.p == 'HDL'"}],
   "mark": {"type": "rule"},
   "encoding": {"x": {"field": "a", "type": "quantitative"}, "y": {"field": "h", "type": "quantitative"}, "y2": {"field": "ya"},
    "color": {"condition": {"test": "datum.k == 'r'", "value": "#ee3b30"}, "value": "black"},
    "strokeWidth": {"condition": {"test": "datum.k == 'r'", "value": 0.8}, "value": 1.5}}},
  {"data": {"name": "br"}, "transform": [{"filter": "datum.p == 'HDL'"}],
   "mark": {"type": "rule"},
   "encoding": {"x": {"field": "b", "type": "quantitative"}, "y": {"field": "h", "type": "quantitative"}, "y2": {"field": "yb"},
    "color": {"condition": {"test": "datum.k == 'r'", "value": "#ee3b30"}, "value": "black"},
    "strokeWidth": {"condition": {"test": "datum.k == 'r'", "value": 0.8}, "value": 1.5}}},
  {"data": {"name": "br"}, "transform": [{"filter": "datum.p == 'HDL'"}],
   "mark": {"type": "text", "fontWeight": "bold", "baseline": "alphabetic", "dy": 1},
   "encoding": {"x": {"field": "m", "type": "quantitative"}, "y": {"field": "h", "type": "quantitative"}, "text": {"field": "t"},
    "color": {"condition": {"test": "datum.k == 'r'", "value": "#ee3b30"}, "value": "black"},
    "size": {"condition": {"test": "datum.k == 'r'", "value": 10}, "value": 15}}},
  {"data": {"values": [{}]}, "mark": {"type": "rule", "color": "black", "strokeWidth": 1.5},
   "encoding": {"x": {"datum": -0.63}, "y": {"datum": 0}, "y2": {"datum": 80}}},
  {"data": {"values": [{}]}, "mark": {"type": "rule", "color": "black", "strokeWidth": 1.5},
   "encoding": {"x": {"datum": -0.63}, "x2": {"datum": 6.48}, "y": {"datum": 0}}}
 ]
},
{
 "width": 108.3, "height": 200.7,
 "title": {"text": "TG (mg/dl)", "offset": 6.7, "dx": 0.85},
 "layer": [
  {"data": {"name": "pts"}, "transform": [{"filter": "datum.p == 'TG'"}],
   "mark": {"type": "bar", "width": 8.8, "stroke": "black", "strokeWidth": 1.5},
   "encoding": {
    "x": {"field": "i", "type": "quantitative", "scale": {"domain": [-0.89, 6.3], "nice": false, "zero": false}, "axis": {"values": [0,1,2,3,4,5,6], "tickCount": 20, "labelOverlap": false, "labelExpr": "['Normal Control','Diabetic Control','Metformin','Probucol','M+P (5:0.5)','M+P (2.5:0.5)','M+P (2.5:0.25)'][datum.value]", "title": "Condition", "titleX": 58, "titleY": 61}},
    "y": {"field": "v", "aggregate": "mean", "type": "quantitative", "scale": {"domain": [0, 732.5], "nice": false}, "axis": {"values": [0,100,200,300,400], "tickCount": 20, "labelOverlap": false, "title": "Concentration (mg/dl)", "titleX": -19.2, "titleY": 145}},
    "fill": {"field": "g", "type": "nominal", "scale": {"domain": ["Normal Control","Diabetic Control","Metformin","Probucol","M+P (5:0.5)","M+P (2.5:0.5)","M+P (2.5:0.25)"], "range": ["#8fa5e6","#a0c4ef","#b3e2f0","#c1e4b3","#b6c5a6","#26321e","#2b52d4"]}, "legend": null}
   }},
  {"data": {"name": "pts"}, "transform": [{"filter": "datum.p == 'TG'"}],
   "mark": {"type": "point", "filled": true, "size": 28, "strokeWidth": 1, "opacity": 1},
   "encoding": {"x": {"field": "i", "type": "quantitative", "title": "Condition"}, "y": {"field": "v", "type": "quantitative", "title": "Concentration (mg/dl)"},
    "color": {"field": "g", "type": "nominal", "scale": {"domain": ["Normal Control","Diabetic Control","Metformin","Probucol","M+P (5:0.5)","M+P (2.5:0.5)","M+P (2.5:0.25)"], "range": ["#2c5ed9","#3b8de3","#5cc5ea","#6dc95b","#5d7e4f","#1b2515","#2b52d4"]}, "legend": null},
    "stroke": {"field": "g", "type": "nominal", "scale": {"domain": ["Normal Control","Diabetic Control","Metformin","Probucol","M+P (5:0.5)","M+P (2.5:0.5)","M+P (2.5:0.25)"], "range": ["#2c5ed9","#3b8de3","#5cc5ea","#6dc95b","#5d7e4f","#000000","#000000"]}, "legend": null},
    "shape": {"field": "g", "type": "nominal", "scale": {"domain": ["Normal Control","Diabetic Control","Metformin","Probucol","M+P (5:0.5)","M+P (2.5:0.5)","M+P (2.5:0.25)"], "range": ["circle","square","triangle-up","triangle-down","cross","circle","square"]}, "legend": null}}},
  {"data": {"name": "pts"}, "transform": [{"filter": "datum.p == 'TG'"}],
   "mark": {"type": "errorbar", "extent": "stderr", "orient": "vertical", "color": "black", "ticks": true, "size": 7, "thickness": 1.3},
   "encoding": {"x": {"field": "i", "type": "quantitative", "title": "Condition"}, "y": {"field": "v", "type": "quantitative", "title": "Concentration (mg/dl)"}}},
  {"data": {"name": "br"}, "transform": [{"filter": "datum.p == 'TG'"}],
   "mark": {"type": "rule"},
   "encoding": {"x": {"field": "a", "type": "quantitative"}, "x2": {"field": "b"}, "y": {"field": "h", "type": "quantitative"},
    "color": {"condition": {"test": "datum.k == 'r'", "value": "#ee3b30"}, "value": "black"},
    "strokeDash": {"condition": {"test": "datum.k == 'r'", "value": [2, 1.5]}, "value": [1, 0]},
    "strokeWidth": {"condition": {"test": "datum.k == 'r'", "value": 0.8}, "value": 1.5}}},
  {"data": {"name": "br"}, "transform": [{"filter": "datum.p == 'TG'"}],
   "mark": {"type": "rule"},
   "encoding": {"x": {"field": "a", "type": "quantitative"}, "y": {"field": "h", "type": "quantitative"}, "y2": {"field": "ya"},
    "color": {"condition": {"test": "datum.k == 'r'", "value": "#ee3b30"}, "value": "black"},
    "strokeWidth": {"condition": {"test": "datum.k == 'r'", "value": 0.8}, "value": 1.5}}},
  {"data": {"name": "br"}, "transform": [{"filter": "datum.p == 'TG'"}],
   "mark": {"type": "rule"},
   "encoding": {"x": {"field": "b", "type": "quantitative"}, "y": {"field": "h", "type": "quantitative"}, "y2": {"field": "yb"},
    "color": {"condition": {"test": "datum.k == 'r'", "value": "#ee3b30"}, "value": "black"},
    "strokeWidth": {"condition": {"test": "datum.k == 'r'", "value": 0.8}, "value": 1.5}}},
  {"data": {"name": "br"}, "transform": [{"filter": "datum.p == 'TG'"}],
   "mark": {"type": "text", "fontWeight": "bold", "baseline": "alphabetic", "dy": 1},
   "encoding": {"x": {"field": "m", "type": "quantitative"}, "y": {"field": "h", "type": "quantitative"}, "text": {"field": "t"},
    "color": {"condition": {"test": "datum.k == 'r'", "value": "#ee3b30"}, "value": "black"},
    "size": {"condition": {"test": "datum.k == 'r'", "value": 10}, "value": 15}}},
  {"data": {"values": [{}]}, "mark": {"type": "rule", "color": "black", "strokeWidth": 1.5},
   "encoding": {"x": {"datum": -0.89}, "y": {"datum": 0}, "y2": {"datum": 400}}},
  {"data": {"values": [{}]}, "mark": {"type": "rule", "color": "black", "strokeWidth": 1.5},
   "encoding": {"x": {"datum": -0.89}, "x2": {"datum": 6.3}, "y": {"datum": 0}}}
 ]
}
]
}
